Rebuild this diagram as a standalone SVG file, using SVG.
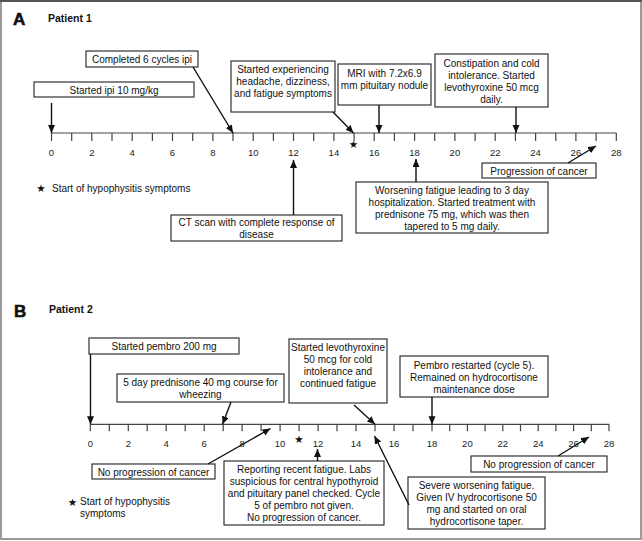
<svg xmlns="http://www.w3.org/2000/svg" width="642" height="541" viewBox="0 0 642 541">
<defs>
<style>
.box{fill:#fff;stroke:#333;stroke-width:1.2}
.t{font-family:"Liberation Sans",Arial,sans-serif;font-size:10px;fill:#111;text-anchor:middle}
.tl{font-family:"Liberation Sans",Arial,sans-serif;font-size:10px;fill:#111}
.ax{font-family:"Liberation Sans",Arial,sans-serif;font-size:9.5px;fill:#222;text-anchor:middle}
.star{font-family:"DejaVu Sans",sans-serif;font-size:10.5px;fill:#111;text-anchor:middle}
.big{font-family:"Liberation Sans",Arial,sans-serif;font-size:17px;font-weight:bold;fill:#111;stroke:#111;stroke-width:0.6}
.pt{font-family:"Liberation Sans",Arial,sans-serif;font-size:10.5px;font-weight:bold;fill:#111}
.axis{stroke:#444;stroke-width:1.2;fill:none}
.ar{stroke:#111;stroke-width:1.4;fill:none;marker-end:url(#ah)}
</style>
<marker id="ah" markerUnits="userSpaceOnUse" markerWidth="9" markerHeight="9" refX="8" refY="3.5" orient="auto">
<path d="M0,0 L8,3.5 L0,7 z" fill="#111"/>
</marker>
</defs>
<rect x="1" y="1" width="640" height="538" fill="#fff" stroke="#9a9a9a" stroke-width="2"/>
<line x1="0" y1="1" x2="642" y2="1" stroke="#555" stroke-width="2"/>

<!-- Panel A headings -->
<text class="big" x="13" y="25">A</text>
<text class="pt" x="48" y="22">Patient 1</text>

<g id="axis-a">
<line class="axis" x1="51.5" y1="133" x2="616.3" y2="133"/>
<path class="axis" d="M51.5,133v8 M71.7,133v8 M91.8,133v8 M112,133v8 M132.2,133v8 M152.4,133v8 M172.5,133v8 M192.7,133v8 M212.9,133v8 M233,133v8 M253.2,133v8 M273.4,133v8 M293.5,133v8 M313.7,133v8 M333.9,133v8 M354.1,133v8 M374.2,133v8 M394.4,133v8 M414.6,133v8 M434.7,133v8 M454.9,133v8 M475.1,133v8 M495.2,133v8 M515.4,133v8 M535.6,133v8 M555.8,133v8 M575.9,133v8 M596.1,133v8 M616.3,133v8"/>
<text class="ax" x="51.5" y="155.5">0</text>
<text class="ax" x="91.8" y="155.5">2</text>
<text class="ax" x="132.2" y="155.5">4</text>
<text class="ax" x="172.5" y="155.5">6</text>
<text class="ax" x="212.9" y="155.5">8</text>
<text class="ax" x="253.2" y="155.5">10</text>
<text class="ax" x="293.5" y="155.5">12</text>
<text class="ax" x="333.9" y="155.5">14</text>
<text class="ax" x="374.2" y="155.5">16</text>
<text class="ax" x="414.6" y="155.5">18</text>
<text class="ax" x="454.9" y="155.5">20</text>
<text class="ax" x="495.2" y="155.5">22</text>
<text class="ax" x="535.6" y="155.5">24</text>
<text class="ax" x="575.9" y="155.5">26</text>
<text class="ax" x="616.3" y="155.5">28</text>
<text class="star" x="353.5" y="148">★</text>
</g>

<g id="legend-a">
<text class="star" x="41" y="192">★</text>
<text class="tl" x="52" y="191.5">Start of hypophysitis symptoms</text>
</g>

<g id="a-start">
<rect class="box" x="34" y="82" width="160" height="15"/>
<text class="t" x="114" y="93.5">Started ipi 10 mg/kg</text>
</g>
<g id="a-completed">
<rect class="box" x="86" y="51" width="112" height="16"/>
<text class="t" x="142" y="63">Completed 6 cycles ipi</text>
</g>
<g id="a-headache">
<rect class="box" x="231" y="61" width="104" height="51"/>
<text class="t" x="283" y="72.5">Started experiencing</text>
<text class="t" x="283" y="84.5">headache, dizziness,</text>
<text class="t" x="283" y="96.5">and fatigue symptoms</text>
</g>
<g id="a-mri">
<rect class="box" x="338" y="64" width="93" height="41"/>
<text class="t" x="384.5" y="76.5">MRI with 7.2x6.9</text>
<text class="t" x="384.5" y="88.5">mm pituitary nodule</text>
</g>
<g id="a-constipation">
<rect class="box" x="435" y="54" width="113" height="53"/>
<text class="t" x="491.5" y="66.5">Constipation and cold</text>
<text class="t" x="491.5" y="78.5">intolerance. Started</text>
<text class="t" x="491.5" y="90.5">levothyroxine 50 mcg</text>
<text class="t" x="491.5" y="102.5">daily.</text>
</g>
<g id="a-progression">
<rect class="box" x="482" y="163" width="114" height="15"/>
<text class="t" x="539" y="174.5">Progression of cancer</text>
</g>
<g id="a-ct">
<rect class="box" x="171" y="215" width="171" height="26"/>
<text class="t" x="256.5" y="225.5">CT scan with complete response of</text>
<text class="t" x="256.5" y="237.5">disease</text>
</g>
<g id="a-worsening">
<rect class="box" x="356" y="182" width="192" height="51"/>
<text class="t" x="452" y="193.5">Worsening fatigue leading to 3 day</text>
<text class="t" x="452" y="205.5">hospitalization. Started treatment with</text>
<text class="t" x="452" y="217.5">prednisone 75 mg, which was then</text>
<text class="t" x="452" y="229.5">tapered to 5 mg daily.</text>
</g>

<!-- Panel B headings -->
<text class="big" x="14" y="317">B</text>
<text class="pt" x="49" y="313">Patient 2</text>

<g id="axis-b">
<line class="axis" x1="90.3" y1="424.3" x2="609" y2="424.3"/>
<path class="axis" d="M90.3,424.3v7 M109.3,424.3v7 M128.3,424.3v7 M147.2,424.3v7 M166.2,424.3v7 M185.2,424.3v7 M204.2,424.3v7 M223.2,424.3v7 M242.1,424.3v7 M261.1,424.3v7 M280.1,424.3v7 M299.1,424.3v7 M318.1,424.3v7 M337,424.3v7 M356,424.3v7 M375,424.3v7 M394,424.3v7 M413,424.3v7 M432,424.3v7 M449.7,424.3v7 M467.4,424.3v7 M485.1,424.3v7 M502.8,424.3v7 M520.5,424.3v7 M538.2,424.3v7 M555.9,424.3v7 M573.6,424.3v7 M591.3,424.3v7 M609,424.3v7"/>
<text class="ax" x="90.3" y="447">0</text>
<text class="ax" x="128.3" y="447">2</text>
<text class="ax" x="166.2" y="447">4</text>
<text class="ax" x="204.2" y="447">6</text>
<text class="ax" x="242.1" y="447">8</text>
<text class="ax" x="280.1" y="447">10</text>
<text class="ax" x="318.1" y="447">12</text>
<text class="ax" x="356" y="447">14</text>
<text class="ax" x="394" y="447">16</text>
<text class="ax" x="432" y="447">18</text>
<text class="ax" x="467.4" y="447">20</text>
<text class="ax" x="502.8" y="447">22</text>
<text class="ax" x="538.2" y="447">24</text>
<text class="ax" x="573.6" y="447">26</text>
<text class="ax" x="609" y="447">28</text>
<text class="star" x="299" y="443">★</text>
</g>

<g id="legend-b">
<text class="star" x="72.5" y="505.5">★</text>
<text class="tl" x="80" y="505">Start of hypophysitis</text>
<text class="tl" x="80" y="517">symptoms</text>
</g>

<g id="b-start">
<rect class="box" x="89" y="338" width="150" height="16"/>
<text class="t" x="164" y="350">Started pembro 200 mg</text>
</g>
<g id="b-prednisone">
<rect class="box" x="117" y="374" width="167" height="28"/>
<text class="t" x="200.5" y="385.5">5 day prednisone 40 mg course for</text>
<text class="t" x="200.5" y="397.5">wheezing</text>
</g>
<g id="b-levo">
<rect class="box" x="289" y="339" width="98" height="64"/>
<text class="t" x="338" y="350.5">Started levothyroxine</text>
<text class="t" x="338" y="362.5">50 mcg for cold</text>
<text class="t" x="338" y="374.5">intolerance and</text>
<text class="t" x="338" y="386.5">continued fatigue</text>
</g>
<g id="b-restart">
<rect class="box" x="400" y="356" width="148" height="41"/>
<text class="t" x="474" y="368.5">Pembro restarted (cycle 5).</text>
<text class="t" x="474" y="380.5">Remained on hydrocortisone</text>
<text class="t" x="474" y="392.5">maintenance dose</text>
</g>
<g id="b-noprog1">
<rect class="box" x="92" y="464" width="123" height="15"/>
<text class="t" x="153.5" y="475.5">No progression of cancer</text>
</g>
<g id="b-reporting">
<rect class="box" x="224" y="461" width="160" height="64"/>
<text class="t" x="304" y="472.5">Reporting recent fatigue. Labs</text>
<text class="t" x="304" y="484.8">suspicious for central hypothyroid</text>
<text class="t" x="304" y="497">and pituitary panel checked. Cycle</text>
<text class="t" x="304" y="509">5 of pembro not given.</text>
<text class="t" x="304" y="521">No progression of cancer.</text>
</g>
<g id="b-severe">
<rect class="box" x="408" y="477" width="137" height="52"/>
<text class="t" x="476.5" y="488.5">Severe worsening fatigue.</text>
<text class="t" x="476.5" y="500.5">Given IV hydrocortisone 50</text>
<text class="t" x="476.5" y="512.8">mg and started on oral</text>
<text class="t" x="476.5" y="525">hydrocortisone taper.</text>
</g>
<g id="b-noprog2">
<rect class="box" x="471" y="456" width="136" height="16"/>
<text class="t" x="539" y="467.8">No progression of cancer</text>
</g>

<g id="connectors">
<line class="ar" x1="51.5" y1="103" x2="51.5" y2="133"/>
<line class="ar" x1="193" y1="67" x2="233" y2="133"/>
<line class="ar" x1="333" y1="112" x2="353.5" y2="133"/>
<line class="ar" x1="379" y1="105" x2="379" y2="133"/>
<line class="ar" x1="516" y1="107" x2="516" y2="133"/>
<line class="ar" x1="568" y1="163" x2="596" y2="146"/>
<line class="ar" x1="293.5" y1="215" x2="293.5" y2="160"/>
<line class="ar" x1="416" y1="182" x2="416" y2="159"/>
<line class="ar" x1="90.5" y1="354" x2="90.5" y2="424.3"/>
<line class="ar" x1="231" y1="402" x2="222.5" y2="424.3"/>
<line class="ar" x1="354" y1="405" x2="375" y2="424.3"/>
<line class="ar" x1="432" y1="397" x2="432" y2="424.3"/>
<line class="ar" x1="208" y1="464" x2="270.5" y2="428.5"/>
<line class="ar" x1="317.5" y1="461" x2="317.5" y2="449"/>
<line class="ar" x1="409" y1="505" x2="374.5" y2="436"/>
<line class="ar" x1="558" y1="456" x2="589" y2="437"/>
</g>
</svg>
